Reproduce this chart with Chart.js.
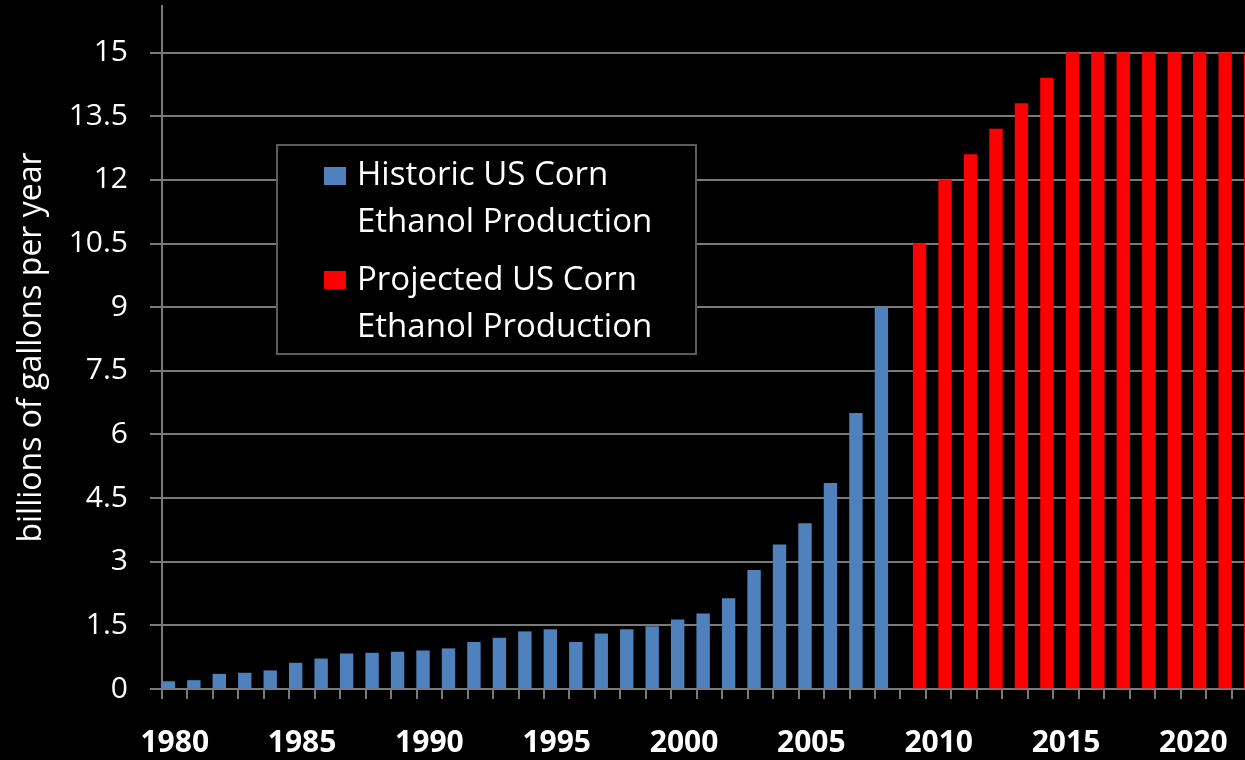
<!DOCTYPE html>
<html>
<head>
<meta charset="utf-8">
<script src="https://cdn.jsdelivr.net/npm/chart.js@4.4.1/dist/chart.umd.min.js"></script>
<style>
  html, body { margin: 0; padding: 0; background: #000; overflow: hidden; }
  #wrap { width: 1257px; height: 760px; }
</style>
</head>
<body>
<div id="wrap"><canvas id="ethanolChart" width="1257" height="760"></canvas></div>
<script>
// years on the category axis
const years = [
    "1980", "1981", "1982", "1983", "1984", "1985", "1986", "1987", "1988", "1989",
    "1990", "1991", "1992", "1993", "1994", "1995", "1996", "1997", "1998", "1999",
    "2000", "2001", "2002", "2003", "2004", "2005", "2006", "2007", "2008", "2009",
    "2010", "2011", "2012", "2013", "2014", "2015", "2016", "2017", "2018", "2019",
    "2020", "2021", "2022"
];

// billions of gallons per year, 1980-2008
const historic = [
    0.175, 0.2, 0.35, 0.375, 0.43, 0.61, 0.71, 0.83, 0.845, 0.87,
    0.9, 0.95, 1.1, 1.2, 1.35, 1.4, 1.1, 1.3, 1.4, 1.47,
    1.63, 1.77, 2.13, 2.8, 3.4, 3.9, 4.85, 6.5, 9.0
];

// billions of gallons per year, 2009-2022
const projected = [10.5, 12, 12.6, 13.2, 13.8, 14.4, 15, 15, 15, 15, 15, 15, 15, 15];

const legendLines = [
    ["Historic US Corn", "Ethanol Production"],
    ["Projected US Corn", "Ethanol Production"]
];

const BLUE = "#4f81bd";
const RED = "#ff0000";
const GRID = "#7a7a7a";

// keep the plot area where it is set, no extra room for edge labels
function noEdgePadding(s) {
    s.paddingTop = 0;
    s.paddingBottom = 0;
    s.paddingLeft = 0;
    s.paddingRight = 0;
}

// =============== Boxed two-line legend ===============
const boxLegend = {
    id: "boxLegend",
    afterDraw(chart) {
        const ctx = chart.ctx;
        ctx.save();
        ctx.fillStyle = "#000";
        ctx.fillRect(277, 145, 419, 209);
        ctx.strokeStyle = "#5c5c5c";
        ctx.lineWidth = 2;
        ctx.strokeRect(277, 145, 419, 209);

        ctx.font = '33px "Open Sans"';
        ctx.textBaseline = "alphabetic";
        ctx.textAlign = "left";
        chart.data.datasets.forEach((ds, i) => {
            const top = 167 + i * 104;
            ctx.fillStyle = ds.backgroundColor;
            ctx.fillRect(324, top, 22, 18);
            ctx.fillStyle = "#fff";
            legendLines[i].forEach((line, j) => {
                ctx.fillText(line, 357, 185 + i * 105 + j * 47);
            });
        });
        ctx.restore();
    }
};

function drawChart() {
    const ctx = document.getElementById("ethanolChart").getContext("2d");

    new Chart(ctx, {
        type: "bar",
        data: {
            labels: years,
            datasets: [
                {
                    label: legendLines[0].join(" "),
                    data: historic.concat(Array(projected.length).fill(null)),
                    backgroundColor: BLUE
                },
                {
                    label: legendLines[1].join(" "),
                    data: Array(historic.length).fill(null).concat(projected),
                    backgroundColor: RED
                }
            ]
        },
        options: {
            responsive: false,
            animation: false,
            layout: { padding: { top: 6, right: 0, left: 0, bottom: 0 } },
            datasets: {
                bar: { categoryPercentage: 1.0, barPercentage: 1.0 }
            },
            plugins: {
                legend: { display: false },
                tooltip: { enabled: false }
            },
            scales: {
                x: {
                    afterFit: s => { s.height = 71; noEdgePadding(s); },
                    border: { color: GRID, width: 2 },
                    grid: {
                        drawOnChartArea: false,
                        drawTicks: true,
                        tickLength: 10,
                        color: GRID,
                        lineWidth: 2
                    },
                    ticks: {
                        autoSkip: false,
                        maxRotation: 0,
                        padding: 26,
                        color: "#fff",
                        font: { family: "Open Sans", size: 30, weight: "bold" },
                        callback: function (v) {
                            const y = this.getLabelForValue(v);
                            return Number(y) % 5 === 0 ? y : "";
                        }
                    }
                },
                y: {
                    min: 0,
                    max: 16.1,
                    afterFit: s => { s.width = 162; noEdgePadding(s); },
                    afterBuildTicks: s => {
                        s.ticks = s.ticks.filter(t => t.value <= 15.001);
                    },
                    border: { color: GRID, width: 2 },
                    grid: {
                        color: GRID,
                        lineWidth: 2,
                        drawTicks: true,
                        tickLength: 12
                    },
                    ticks: {
                        stepSize: 1.5,
                        padding: 22,
                        color: "#fff",
                        font: { family: "Open Sans", size: 30 },
                        callback: v => String(Math.round(v * 10) / 10)
                    },
                    title: {
                        display: true,
                        text: "billions of gallons per year",
                        color: "#fff",
                        padding: { top: 13, bottom: 0 },
                        font: { family: "Open Sans", size: 32 }
                    }
                }
            }
        },
        plugins: [boxLegend]
    });
}

Promise.all([
    document.fonts.load('30px "Open Sans"'),
    document.fonts.load('bold 30px "Open Sans"')
]).then(drawChart, drawChart);
</script>
</body>
</html>
